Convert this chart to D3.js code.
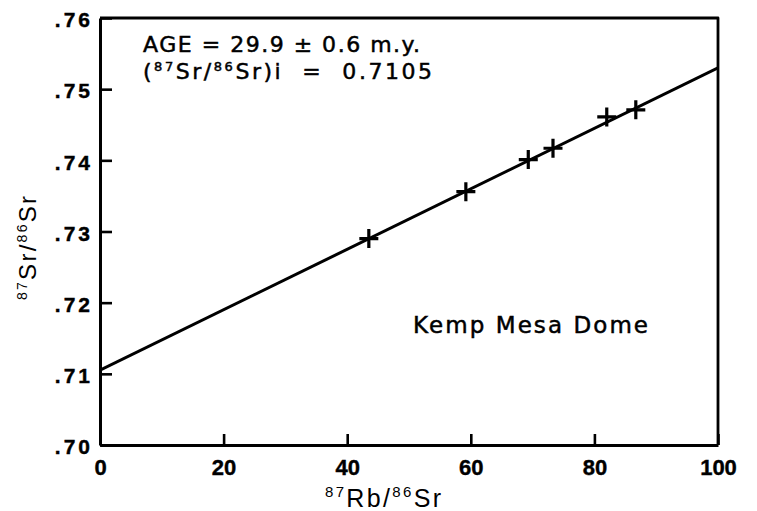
<!DOCTYPE html>
<html>
<head>
<meta charset="utf-8">
<script src="https://cdn.jsdelivr.net/npm/d3@7"></script>
<style>
  html, body { margin: 0; padding: 0; background: #fff; }
  svg { display: block; font-family: "Liberation Sans", Arial, sans-serif; }
</style>
</head>
<body>
<svg id="chart" width="757" height="511"></svg>
<script>
// ---- data ----
const xTicks = [0, 20, 40, 60, 80, 100];
const yTicks = [0.70, 0.71, 0.72, 0.73, 0.74, 0.75, 0.76];
const rbSr = [43.5, 59.2, 69.3, 73.3, 82.0, 86.7];          // 87Rb/86Sr
const srSr = [0.7290, 0.7356, 0.7401, 0.7417, 0.7461, 0.7471]; // 87Sr/86Sr
const isoX = [0, 100];
const isoY = [0.7105, 0.7530];
const ageText = "AGE = 29.9 ± 0.6 m.y.";
const initialValue = "0.7105";
const sampleName = "Kemp Mesa Dome";

// ---- layout ----
const svg = d3.select("#chart");
const m = { left: 100, right: 718, top: 18, bottom: 445 };
const x = d3.scaleLinear().domain([0, 100]).range([m.left, m.right]);
const y = d3.scaleLinear().domain([0.70, 0.76]).range([m.bottom, m.top]);
const font = "'Liberation Sans', Arial, sans-serif";
const wide = "'DejaVu Sans', 'Liberation Sans', sans-serif";

// frame (top and right)
svg.append("path")
  .attr("d", `M${m.left},${m.top}H${m.right}V${m.bottom}`)
  .attr("fill", "none").attr("stroke", "#000").attr("stroke-width", 2.8)
  .attr("stroke-linejoin", "round");

// x axis
const xAxis = svg.append("g")
  .attr("transform", `translate(0,${m.bottom})`)
  .call(d3.axisBottom(x).tickValues(xTicks).tickSize(-11).tickSizeOuter(0).tickPadding(14)
    .tickFormat(d3.format("d")));
xAxis.select(".domain").attr("stroke-width", 3);
xAxis.selectAll(".tick line").attr("stroke-width", 2.6);
xAxis.selectAll(".tick text")
  .attr("font-family", font)
  .attr("font-size", 22).attr("font-weight", "bold").attr("fill", "#000")
  .attr("stroke", "#000").attr("stroke-width", 0.4);

// y axis
const yAxis = svg.append("g")
  .attr("transform", `translate(${m.left},0)`)
  .call(d3.axisLeft(y).tickValues(yTicks).tickSize(-12).tickSizeOuter(0).tickPadding(7)
    .tickFormat(d => d3.format(".2f")(d).replace(/^0/, "")));
yAxis.select(".domain").attr("stroke-width", 3);
yAxis.selectAll(".tick line").attr("stroke-width", 2.6);
yAxis.selectAll(".tick text")
  .attr("font-family", font)
  .attr("font-size", 21).attr("font-weight", "bold").attr("fill", "#000")
  .attr("stroke", "#000").attr("stroke-width", 0.4)
  .attr("letter-spacing", "3px").attr("dy", "0.42em");

// isochron line (clipped to plot)
svg.append("clipPath").attr("id", "plotclip")
  .append("rect").attr("x", m.left).attr("y", m.top)
  .attr("width", m.right - m.left).attr("height", m.bottom - m.top);
svg.append("line")
  .attr("clip-path", "url(#plotclip)")
  .attr("x1", x(isoX[0])).attr("y1", y(isoY[0]))
  .attr("x2", x(isoX[1])).attr("y2", y(isoY[1]))
  .attr("stroke", "#000").attr("stroke-width", 3);

// data points as crosses
const pts = rbSr.map((v, i) => ({ x: v, y: srSr[i] }));
const g = svg.append("g").attr("stroke", "#000").attr("stroke-width", 3.2);
g.selectAll("path.cross").data(pts).enter().append("path")
  .attr("class", "cross")
  .attr("fill", "none")
  .attr("d", d => {
    const cx = x(d.x), cy = y(d.y);
    return `M${cx - 9.5},${cy}H${cx + 9.5}M${cx},${cy - 9.5}V${cy + 9.5}`;
  });

// annotations
svg.append("text")
  .attr("x", 143).attr("y", 52)
  .attr("font-family", wide).attr("font-size", 22)
  .attr("stroke", "#000").attr("stroke-width", 0.5)
  .attr("textLength", 277).attr("lengthAdjust", "spacing")
  .text(ageText);

const t2 = svg.append("text")
  .attr("x", 143).attr("y", 79)
  .attr("font-family", wide).attr("font-size", 22)
  .attr("stroke", "#000").attr("stroke-width", 0.5)
  .attr("textLength", 289).attr("lengthAdjust", "spacing");
t2.append("tspan").text("(");
t2.append("tspan").attr("font-size", 13).attr("dy", -8).text("87");
t2.append("tspan").attr("dy", 8).text("Sr/");
t2.append("tspan").attr("font-size", 13).attr("dy", -8).text("86");
t2.append("tspan").attr("dy", 8).text("Sr)i\u00A0\u00A0=\u00A0\u00A0" + initialValue);

svg.append("text")
  .attr("x", 413).attr("y", 333)
  .attr("font-family", wide).attr("font-size", 23)
  .attr("stroke", "#000").attr("stroke-width", 0.5)
  .attr("textLength", 235).attr("lengthAdjust", "spacing")
  .text(sampleName);

// axis titles
const xt = svg.append("text")
  .attr("x", 325).attr("y", 507)
  .attr("font-family", font).attr("font-size", 25)
  .attr("textLength", 116).attr("lengthAdjust", "spacing");
xt.append("tspan").attr("font-size", 15).attr("dy", -10).text("87");
xt.append("tspan").attr("dy", 10).text("Rb/");
xt.append("tspan").attr("font-size", 15).attr("dy", -10).text("86");
xt.append("tspan").attr("dy", 10).text("Sr");

const yt = svg.append("text")
  .attr("transform", "translate(36,300) rotate(-90)")
  .attr("font-family", font).attr("font-size", 24)
  .attr("textLength", 104).attr("lengthAdjust", "spacing");
yt.append("tspan").attr("font-size", 14).attr("dy", -9).text("87");
yt.append("tspan").attr("dy", 9).text("Sr/");
yt.append("tspan").attr("font-size", 14).attr("dy", -9).text("86");
yt.append("tspan").attr("dy", 9).text("Sr");
</script>
</body>
</html>
